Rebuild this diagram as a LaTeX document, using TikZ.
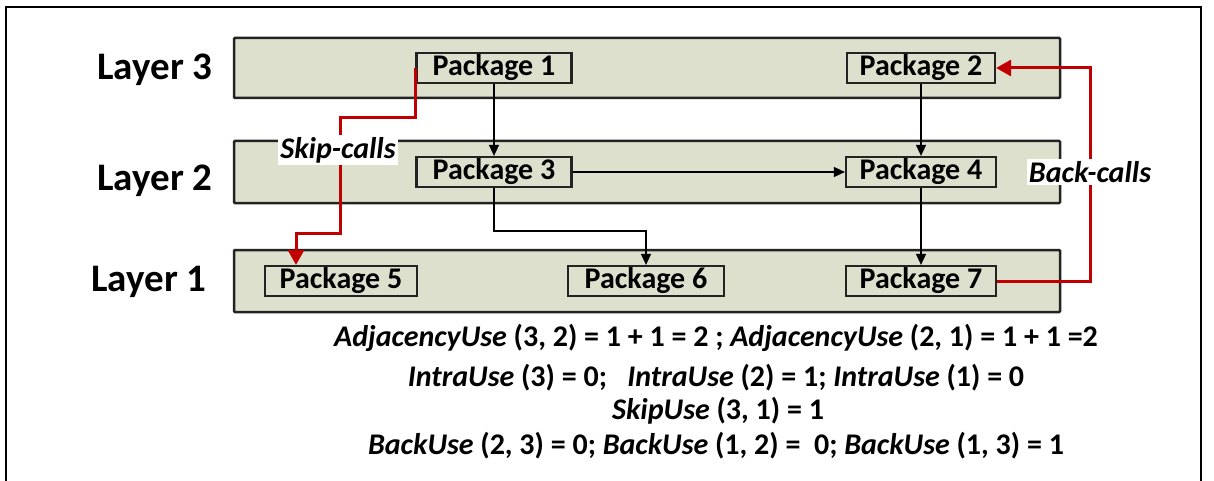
\documentclass[tikz,border=0pt]{standalone}
\usepackage{fontspec}
\setmainfont{Carlito}
\usetikzlibrary{arrows.meta}
\definecolor{bandfill}{RGB}{221,224,204}
\definecolor{bandline}{RGB}{35,35,35}
\definecolor{callred}{RGB}{192,0,0}
\begin{document}
\begin{tikzpicture}[x=1pt,y=-1pt,
  band/.style={draw=bandline,line width=2.5pt,fill=bandfill,rounded corners=1pt},
  pkg/.style={draw=bandline,line width=2.2pt,fill=bandfill,minimum width=152pt,minimum height=30pt,inner sep=0pt,font=\fontsize{30}{32}\selectfont\bfseries},
  layerlbl/.style={font=\fontsize{39}{42}\selectfont\bfseries,inner sep=0pt},
  use/.style={-{Triangle[length=11pt,width=10pt]},line width=1.5pt,black},
  redcall/.style={-{Triangle[length=15pt,width=16pt]},line width=3pt,callred},
  calllbl/.style={fill=white,inner sep=2pt,font=\fontsize{30}{32}\selectfont\bfseries\itshape},
  formula/.style={font=\fontsize{30}{32}\selectfont\bfseries,inner sep=0pt}]
\useasboundingbox (0,0) rectangle (1214,481);
\fill[white] (0,0) rectangle (1214,481);
% outer frame
\draw[line width=2.5pt,black] (6,485) -- (6,7) -- (1201,7) -- (1201,485);

% layer bands
\draw[band] (234,38) rectangle (1060,98);
\draw[band] (234,141) rectangle (1060,203);
\draw[band] (234,250) rectangle (1060,312);

% layer labels
\node[layerlbl] (L3) at (155,70) {Layer 3};
\node[layerlbl] (L2) at (155,181) {Layer 2};
\node[layerlbl] (L1) at (149,282) {Layer 1};

% packages
\node[pkg,minimum width=155pt] (P1) at (494,68) {Package 1};
\node[pkg,minimum width=148pt] (P2) at (921,68) {Package 2};
\node[pkg,minimum width=155pt] (P3) at (494,172) {Package 3};
\node[pkg,minimum width=150pt] (P4) at (921,172) {Package 4};
\node[pkg,minimum width=152pt] (P5) at (341,281) {Package 5};
\node[pkg,minimum width=156pt] (P6) at (646,281) {Package 6};
\node[pkg,minimum width=150pt] (P7) at (921,281) {Package 7};

% adjacent-layer and intra-layer uses
\draw[use] (P1.south) -- (P3.north);
\draw[use] (P2.south) -- (P4.north);
\draw[use] (P3.east) -- (P4.west);
\coordinate (j36) at (646,231);
\draw[use] (P3.south) |- (j36) -- (P6.north);
\draw[use] (P4.south) -- (P7.north);

% skip-call from layer 3 to layer 1
\coordinate (s1) at (340,118);
\coordinate (s2) at (340,233);
\coordinate (s3) at (296,233);
\draw[redcall] (P1.west) |- (s1) -- (s2) -- (s3) -- (s3 |- P5.north);
\node[calllbl] (skip) at (338,150) {Skip-calls};

% back-call from layer 1 to layer 3
\coordinate (b1) at (1090,68);
\draw[redcall] (P7.east) -| (b1) -- (P2.east);
\node[calllbl] (back) at (1090,172) {Back-calls};

% metrics
\node[formula] (f1) at (716,338) {\itshape AdjacencyUse\upshape{} (3, 2) = 1 + 1 = 2 ; \itshape AdjacencyUse\upshape{} (2, 1) = 1 + 1 =2};
\node[formula] (f2) at (716,378) {\itshape IntraUse\upshape{} (3) = 0;\ \ \ \itshape IntraUse\upshape{} (2) = 1; \itshape IntraUse\upshape{} (1) = 0};
\node[formula] (f3) at (718,411) {\itshape SkipUse\upshape{} (3, 1) = 1};
\node[formula] (f4) at (716,446) {\itshape BackUse\upshape{} (2, 3) = 0; \itshape BackUse\upshape{} (1, 2) =\ \ 0; \itshape BackUse\upshape{} (1, 3) = 1};
\end{tikzpicture}
\end{document}
